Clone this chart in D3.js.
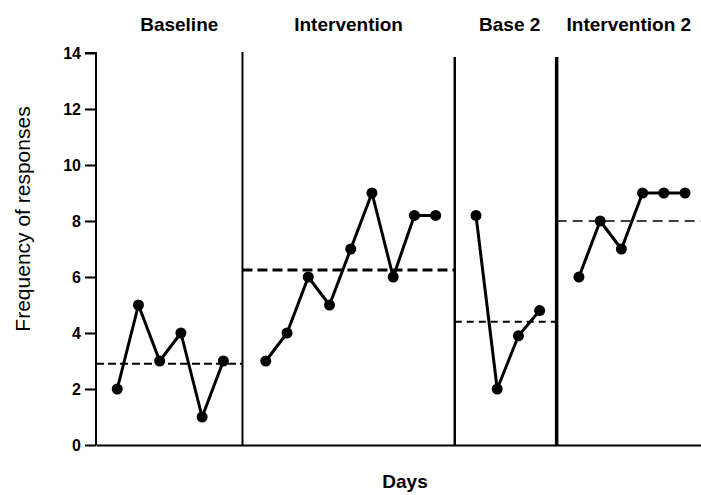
<!DOCTYPE html>
<html>
<head>
<meta charset="utf-8">
<script src="https://cdn.jsdelivr.net/npm/d3@7"></script>
<style>
  html, body { margin: 0; padding: 0; background: #fff; }
  svg { display: block; }
</style>
</head>
<body>
<svg id="chart" width="701" height="495"></svg>
<script>
// ---- data ----
const phaseNames = ["Baseline", "Intervention", "Base 2", "Intervention 2"];
const baselineDays = [1, 2, 3, 4, 5, 6];
const baselineValues = [2, 5, 3, 4, 1, 3];
const interventionDays = [8, 9, 10, 11, 12, 13, 14, 15, 16];
const interventionValues = [3, 4, 6, 5, 7, 9, 6, 8.2, 8.2];
const base2Days = [17.9, 18.9, 19.9, 20.9];
const base2Values = [8.2, 2, 3.9, 4.8];
const intervention2Days = [22.75, 23.75, 24.75, 25.75, 26.75, 27.75];
const intervention2Values = [6, 8, 7, 9, 9, 9];
const phaseMeans = [2.9, 6.25, 4.4, 8.0];
const phaseChangeDays = [6.9, 16.9, 21.7];
const yTickValues = [0, 2, 4, 6, 8, 10, 12, 14];
const xDomain = [0, 28.5];
const yDomain = [0, 14];

// ---- layout ----
const svg = d3.select("#chart");
const x = d3.scaleLinear().domain(xDomain).range([96, 701]);
const y = d3.scaleLinear().domain(yDomain).range([445, 53]);

const series = [
  { days: baselineDays, values: baselineValues },
  { days: interventionDays, values: interventionValues },
  { days: base2Days, values: base2Values },
  { days: intervention2Days, values: intervention2Values }
];
const bounds = [xDomain[0], ...phaseChangeDays, xDomain[1]];

// y axis
const yAxis = d3.axisLeft(y).tickValues(yTickValues).tickSize(11).tickPadding(4).tickFormat(d3.format("d"));
const gy = svg.append("g").attr("transform", `translate(${x(0)},0)`).call(yAxis);
gy.select(".domain").attr("stroke", "#000").attr("stroke-width", 2).attr("d", `M-11,${y(14)}H0V${y(0)}`);
gy.selectAll(".tick line").attr("stroke", "#000").attr("stroke-width", 2);
gy.selectAll(".tick text")
  .attr("fill", "#000")
  .style("font-family", "Liberation Sans, Arial, sans-serif")
  .style("font-size", "16px")
  .style("font-weight", "bold");

// x axis
const xAxis = d3.axisBottom(x).tickValues([]).tickSize(0);
const gx = svg.append("g").attr("transform", `translate(0,${y(0)})`).call(xAxis);
gx.select(".domain").attr("stroke", "#000").attr("stroke-width", 2);

// phase change lines
const phaseWidths = [2, 2.5, 3.5];
svg.selectAll(".phase-line")
  .data(phaseChangeDays)
  .join("line")
  .attr("class", "phase-line")
  .attr("x1", d => x(d)).attr("x2", d => x(d))
  .attr("y1", (d, i) => i === 0 ? y(14) - 1 : y(14) + 4)
  .attr("y2", y(0))
  .attr("stroke", "#000")
  .attr("stroke-width", (d, i) => phaseWidths[i]);

// mean (dashed) lines
const dashStyles = [
  { w: 2, dash: "8,4" },
  { w: 3, dash: "10,5" },
  { w: 2, dash: "7,5" },
  { w: 1.6, dash: "10,6" }
];
svg.selectAll(".mean-line")
  .data(phaseMeans)
  .join("line")
  .attr("class", "mean-line")
  .attr("x1", (d, i) => x(bounds[i]))
  .attr("x2", (d, i) => x(bounds[i + 1]))
  .attr("y1", d => y(d)).attr("y2", d => y(d))
  .attr("stroke", "#000")
  .attr("stroke-width", (d, i) => dashStyles[i].w)
  .attr("stroke-dasharray", (d, i) => dashStyles[i].dash);

// data lines & markers
const line = d3.line().x(d => x(d[0])).y(d => y(d[1]));
series.forEach(s => {
  const pts = s.days.map((d, i) => [d, s.values[i]]);
  svg.append("path")
    .datum(pts)
    .attr("d", line)
    .attr("fill", "none")
    .attr("stroke", "#000")
    .attr("stroke-width", 3)
    .attr("stroke-linejoin", "round");
  svg.selectAll(null)
    .data(pts)
    .join("circle")
    .attr("cx", d => x(d[0]))
    .attr("cy", d => y(d[1]))
    .attr("r", 5.5)
    .attr("fill", "#000");
});

// phase labels
const labelOffsets = [10, 0, 4, 0];
svg.selectAll(".phase-label")
  .data(phaseNames)
  .join("text")
  .attr("class", "phase-label")
  .attr("x", (d, i) => (x(bounds[i]) + x(bounds[i + 1])) / 2 + labelOffsets[i])
  .attr("y", 31)
  .attr("text-anchor", "middle")
  .style("font-family", "Liberation Sans, Arial, sans-serif")
  .style("font-size", "19px")
  .style("font-weight", "bold")
  .text(d => d);

// axis titles
svg.append("text")
  .attr("transform", `translate(30,${(y(0) + y(14)) / 2 - 30}) rotate(-90)`)
  .attr("text-anchor", "middle")
  .style("font-family", "Liberation Sans, Arial, sans-serif")
  .style("font-size", "21px")
  .text("Frequency of responses");

svg.append("text")
  .attr("x", 405)
  .attr("y", 488)
  .attr("text-anchor", "middle")
  .style("font-family", "Liberation Sans, Arial, sans-serif")
  .style("font-size", "19px")
  .style("font-weight", "bold")
  .text("Days");
</script>
</body>
</html>
